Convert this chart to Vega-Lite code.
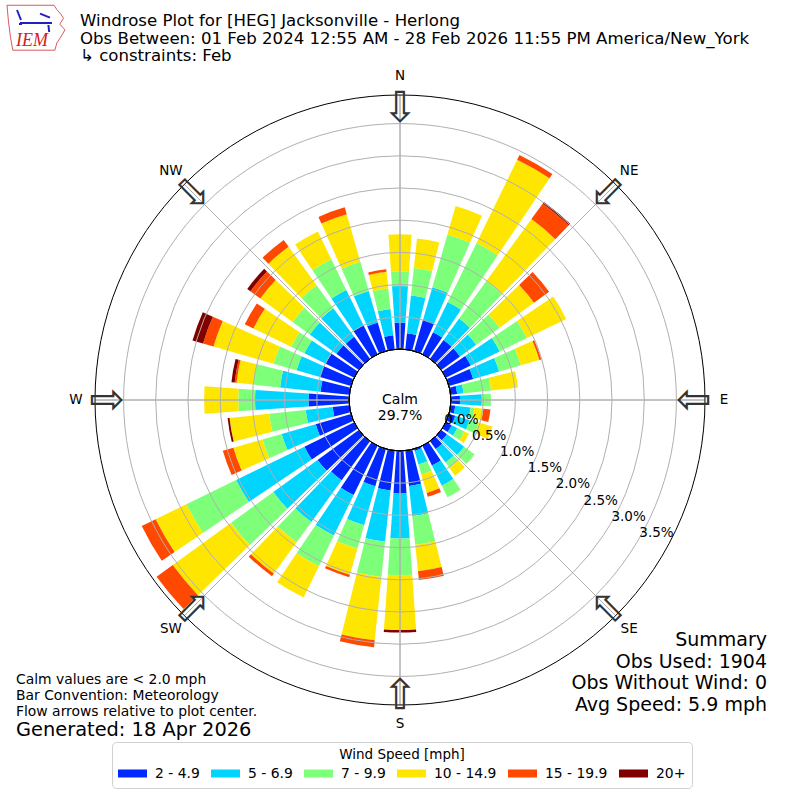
{
  "$schema": "https://vega.github.io/schema/vega-lite/v6.json",
  "width": 800,
  "height": 800,
  "autosize": {"type": "none"},
  "padding": 0,
  "background": "white",
  "config": {"view": {"stroke": null}, "font": "DejaVu Sans"},
  "datasets": {
    "rose": [
      {"dir": 0, "b1": 0.41, "b2": 0.57, "b3": 0.22, "b4": 0.58, "b5": 0, "b6": 0},
      {"dir": 10, "b1": 0.25, "b2": 0.59, "b3": 0.43, "b4": 0.46, "b5": 0, "b6": 0},
      {"dir": 20, "b1": 0.51, "b2": 0.52, "b3": 0.85, "b4": 0.46, "b5": 0, "b6": 0},
      {"dir": 30, "b1": 0.38, "b2": 0.52, "b3": 1.02, "b4": 1.44, "b5": 0.08, "b6": 0},
      {"dir": 40, "b1": 0.36, "b2": 0.41, "b3": 0.72, "b4": 1.19, "b5": 0.30, "b6": 0.03},
      {"dir": 50, "b1": 0.36, "b2": 0.31, "b3": 0.45, "b4": 0.66, "b5": 0.29, "b6": 0},
      {"dir": 60, "b1": 0.43, "b2": 0.50, "b3": 0.47, "b4": 0.68, "b5": 0, "b6": 0},
      {"dir": 70, "b1": 0.39, "b2": 0.42, "b3": 0.35, "b4": 0.30, "b5": 0.03, "b6": 0},
      {"dir": 80, "b1": 0.10, "b2": 0.10, "b3": 0.43, "b4": 0.42, "b5": 0, "b6": 0},
      {"dir": 90, "b1": 0.14, "b2": 0.34, "b3": 0.14, "b4": 0, "b5": 0, "b6": 0},
      {"dir": 100, "b1": 0.07, "b2": 0.24, "b3": 0.06, "b4": 0.14, "b5": 0.11, "b6": 0},
      {"dir": 110, "b1": 0.10, "b2": 0.23, "b3": 0.15, "b4": 0.22, "b5": 0, "b6": 0},
      {"dir": 120, "b1": 0.10, "b2": 0.10, "b3": 0.12, "b4": 0.08, "b5": 0, "b6": 0},
      {"dir": 130, "b1": 0.11, "b2": 0.33, "b3": 0.20, "b4": 0, "b5": 0, "b6": 0},
      {"dir": 140, "b1": 0.15, "b2": 0.26, "b3": 0.10, "b4": 0.15, "b5": 0, "b6": 0},
      {"dir": 150, "b1": 0.34, "b2": 0.35, "b3": 0.20, "b4": 0, "b5": 0, "b6": 0},
      {"dir": 160, "b1": 0.03, "b2": 0.22, "b3": 0.16, "b4": 0.30, "b5": 0.06, "b6": 0},
      {"dir": 170, "b1": 0.55, "b2": 0.47, "b3": 0.45, "b4": 0.41, "b5": 0.14, "b6": 0},
      {"dir": 180, "b1": 0.66, "b2": 0.70, "b3": 0.57, "b4": 0.85, "b5": 0, "b6": 0.04},
      {"dir": 190, "b1": 0.62, "b2": 0.80, "b3": 0.55, "b4": 0.99, "b5": 0.11, "b6": 0},
      {"dir": 200, "b1": 0.60, "b2": 0.63, "b3": 0.38, "b4": 0.42, "b5": 0.04, "b6": 0},
      {"dir": 210, "b1": 0.85, "b2": 0.70, "b3": 0.53, "b4": 0.54, "b5": 0, "b6": 0},
      {"dir": 220, "b1": 0.75, "b2": 0.80, "b3": 0.39, "b4": 0.60, "b5": 0.05, "b6": 0},
      {"dir": 230, "b1": 0.79, "b2": 0.85, "b3": 0.81, "b4": 1.12, "b5": 0.31, "b6": 0},
      {"dir": 240, "b1": 0.86, "b2": 1.18, "b3": 0.86, "b4": 0.53, "b5": 0.24, "b6": 0},
      {"dir": 250, "b1": 0.57, "b2": 0.55, "b3": 0.31, "b4": 0.47, "b5": 0.17, "b6": 0},
      {"dir": 260, "b1": 0.26, "b2": 0.42, "b3": 0.57, "b4": 0.62, "b5": 0, "b6": 0.03},
      {"dir": 270, "b1": 0.63, "b2": 0.83, "b3": 0.26, "b4": 0.53, "b5": 0, "b6": 0},
      {"dir": 280, "b1": 0.45, "b2": 0.63, "b3": 0.42, "b4": 0.26, "b5": 0.03, "b6": 0.05},
      {"dir": 290, "b1": 0.50, "b2": 0.38, "b3": 0.37, "b4": 0.97, "b5": 0.17, "b6": 0.17},
      {"dir": 300, "b1": 0.49, "b2": 0.37, "b3": 0.23, "b4": 0.65, "b5": 0.15, "b6": 0},
      {"dir": 310, "b1": 0.43, "b2": 0.51, "b3": 0.33, "b4": 0.62, "b5": 0.19, "b6": 0.06},
      {"dir": 320, "b1": 0.42, "b2": 0.55, "b3": 0.44, "b4": 0.74, "b5": 0.13, "b6": 0},
      {"dir": 330, "b1": 0.50, "b2": 0.61, "b3": 0.53, "b4": 0.48, "b5": 0, "b6": 0},
      {"dir": 340, "b1": 0.46, "b2": 0.51, "b3": 0.47, "b4": 0.77, "b5": 0.11, "b6": 0},
      {"dir": 350, "b1": 0.22, "b2": 0.41, "b3": 0.32, "b4": 0.26, "b5": 0.04, "b6": 0}
    ],
    "rings": [
      {"v": 0}, {"v": 0.5}, {"v": 1.0}, {"v": 1.5}, {"v": 2.0}, {"v": 2.5}, {"v": 3.0}, {"v": 3.5}
    ],
    "compass": [
      {"lab": "N", "b": 0}, {"lab": "NE", "b": 45}, {"lab": "E", "b": 90}, {"lab": "SE", "b": 135},
      {"lab": "S", "b": 180}, {"lab": "SW", "b": 225}, {"lab": "W", "b": 270}, {"lab": "NW", "b": 315}
    ]
  },
  "layer": [
    {
      "data": {"name": "rose"},
      "transform": [
        {"fold": ["b1", "b2", "b3", "b4", "b5", "b6"], "as": ["key", "pct"]},
        {"filter": "datum.pct > 0"},
        {"stack": "pct", "groupby": ["dir"], "sort": [{"field": "key", "order": "ascending"}], "as": ["r0", "r1"]},
        {"calculate": "datum.dir - 4", "as": "t0"},
        {"calculate": "datum.dir + 4", "as": "t1"}
      ],
      "mark": {"type": "arc"},
      "encoding": {
        "theta": {"field": "t0", "type": "quantitative", "stack": null,
          "scale": {"domain": [0, 360], "range": [0, 6.283185307]}},
        "theta2": {"field": "t1"},
        "radius": {"field": "r1", "type": "quantitative", "stack": null,
          "scale": {"type": "linear", "domain": [0, 4], "range": [51, 308.6], "zero": false}},
        "radius2": {"field": "r0"},
        "color": {
          "field": "key",
          "type": "nominal",
          "scale": {
            "domain": ["b1", "b2", "b3", "b4", "b5", "b6"],
            "range": ["#0028ff", "#00d4ff", "#7dff7a", "#ffe600", "#ff4800", "#800000"]
          },
          "legend": {
            "title": "Wind Speed [mph]",
            "orient": "none",
            "legendX": 112,
            "legendY": 742,
            "direction": "horizontal",
            "columns": 6,
            "columnPadding": 11,
            "clipHeight": 16,
            "padding": 6,
            "strokeColor": "#d0d0d0",
            "fillColor": "white",
            "cornerRadius": 4,
            "titleFontSize": 13.5,
            "titleFontWeight": "normal",
            "titleColor": "black",
            "titleAnchor": "middle",
            "titlePadding": 4,
            "labelFontSize": 13.9,
            "labelColor": "black",
            "labelOffset": 8,
            "symbolType": "M-1,-0.28H1V0.28H-1Z",
            "symbolSize": 841,
            "symbolStrokeWidth": 0,
            "symbolOpacity": 1,
            "labelExpr": "datum.label == 'b1' ? '2 - 4.9' : datum.label == 'b2' ? '5 - 6.9' : datum.label == 'b3' ? '7 - 9.9' : datum.label == 'b4' ? '10 - 14.9' : datum.label == 'b5' ? '15 - 19.9' : '20+'"
          }
        }
      }
    },
    {
      "data": {"name": "rings"},
      "transform": [{"filter": "datum.v > 0"}],
      "mark": {"type": "arc", "filled": false, "stroke": "#b0b0b0", "strokeWidth": 1, "theta": 0, "theta2": 6.2832},
      "encoding": {"radius": {"field": "v", "type": "quantitative", "stack": null}}
    },
    {
      "data": {"name": "compass"},
      "mark": {"type": "arc", "filled": false, "stroke": "#b0b0b0", "strokeWidth": 1},
      "encoding": {
        "theta": {"field": "b", "type": "quantitative", "stack": null},
        "theta2": {"field": "b"},
        "radius": {"datum": 3.944},
        "radius2": {"datum": 0}
      }
    },
    {
      "data": {"values": [{"edge": 0}, {"edge": 3.944}]},
      "mark": {"type": "arc", "filled": false, "stroke": "black", "strokeWidth": 1, "theta": 0, "theta2": 6.2832},
      "encoding": {"radius": {"field": "edge", "type": "quantitative", "stack": null}}
    },
    {
      "data": {"name": "rings"},
      "transform": [{"calculate": "format(datum.v, '.1f') + '%'", "as": "lab"}],
      "mark": {"type": "text", "align": "left", "baseline": "alphabetic", "fontSize": 13.5, "dy": -1.5, "color": "black"},
      "encoding": {
        "theta": {"datum": 120},
        "radius": {"field": "v", "type": "quantitative"},
        "text": {"field": "lab"}
      }
    },
    {
      "data": {"name": "compass"},
      "mark": {"type": "text", "align": "center", "baseline": "middle", "fontSize": 13.5, "color": "black"},
      "encoding": {
        "theta": {"field": "b", "type": "quantitative"},
        "radius": {"datum": 4.24},
        "text": {"field": "lab"}
      }
    },
    {
      "data": {"name": "compass"},
      "mark": {"type": "text", "text": "⇩", "align": "center", "baseline": "middle", "fontSize": 43, "color": "#333333"},
      "encoding": {
        "theta": {"field": "b", "type": "quantitative"},
        "radius": {"datum": 3.727},
        "angle": {"field": "b", "type": "quantitative", "scale": null}
      }
    },
    {
      "data": {"values": [{}]},
      "mark": {"type": "text", "text": ["Calm", "29.7%"], "align": "center", "baseline": "middle", "fontSize": 14, "lineHeight": 16, "color": "black"}
    },
    {
      "data": {"values": [{}]},
      "mark": {"type": "text", "align": "left", "baseline": "alphabetic", "fontSize": 16.6, "lineHeight": 17.5, "color": "black",
        "text": ["Windrose Plot for [HEG] Jacksonville - Herlong", "Obs Between: 01 Feb 2024 12:55 AM - 28 Feb 2026 11:55 PM America/New_York", "\u00a0↳ constraints: Feb"]},
      "encoding": {"x": {"value": 80}, "y": {"value": 26}}
    },
    {
      "data": {"values": [{}]},
      "mark": {"type": "point", "shape": "M-1,-0.75L0.62,-0.75L0.72,-0.6L0.85,-0.45L0.95,-0.3L0.82,-0.1L1,0.1L0.85,0.35L0.72,0.55L0.65,0.8L-0.8,0.8L-0.88,0.35L-0.95,-0.2Z",
        "size": 3364, "filled": false, "stroke": "#d03030", "strokeWidth": 0.8, "opacity": 1},
      "encoding": {"x": {"value": 36}, "y": {"value": 27}}
    },
    {
      "data": {"values": [{}]},
      "mark": {"type": "point", "shape": "M-0.8,0.05L0.8,0.05M-0.95,-0.6L-0.75,-0.1M0.2,-0.42L0.7,-0.22M0.62,0.15L0.66,0.5M-0.85,0.1L-0.7,0.1",
        "size": 1600, "filled": false, "stroke": "#2020c8", "strokeWidth": 2, "opacity": 1},
      "encoding": {"x": {"value": 36}, "y": {"value": 22}}
    },
    {
      "data": {"values": [{}]},
      "mark": {"type": "text", "text": "IEM", "font": "Liberation Serif", "fontStyle": "italic", "fontSize": 18, "color": "#d42020", "align": "left", "baseline": "alphabetic"},
      "encoding": {"x": {"value": 16}, "y": {"value": 46}}
    },
    {
      "data": {"values": [{}]},
      "mark": {"type": "text", "align": "left", "baseline": "alphabetic", "fontSize": 13.9, "lineHeight": 15.8, "color": "black",
        "text": ["Calm values are < 2.0 mph", "Bar Convention: Meteorology", "Flow arrows relative to plot center."]},
      "encoding": {"x": {"value": 16}, "y": {"value": 684}}
    },
    {
      "data": {"values": [{}]},
      "mark": {"type": "text", "align": "left", "baseline": "alphabetic", "fontSize": 19.4, "color": "black", "text": "Generated: 18 Apr 2026"},
      "encoding": {"x": {"value": 16}, "y": {"value": 736}}
    },
    {
      "data": {"values": [{}]},
      "mark": {"type": "text", "align": "right", "baseline": "alphabetic", "fontSize": 19, "lineHeight": 21.7, "color": "black",
        "text": ["Summary", "Obs Used: 1904", "Obs Without Wind: 0", "Avg Speed: 5.9 mph"]},
      "encoding": {"x": {"value": 767}, "y": {"value": 646}}
    }
  ]
}
